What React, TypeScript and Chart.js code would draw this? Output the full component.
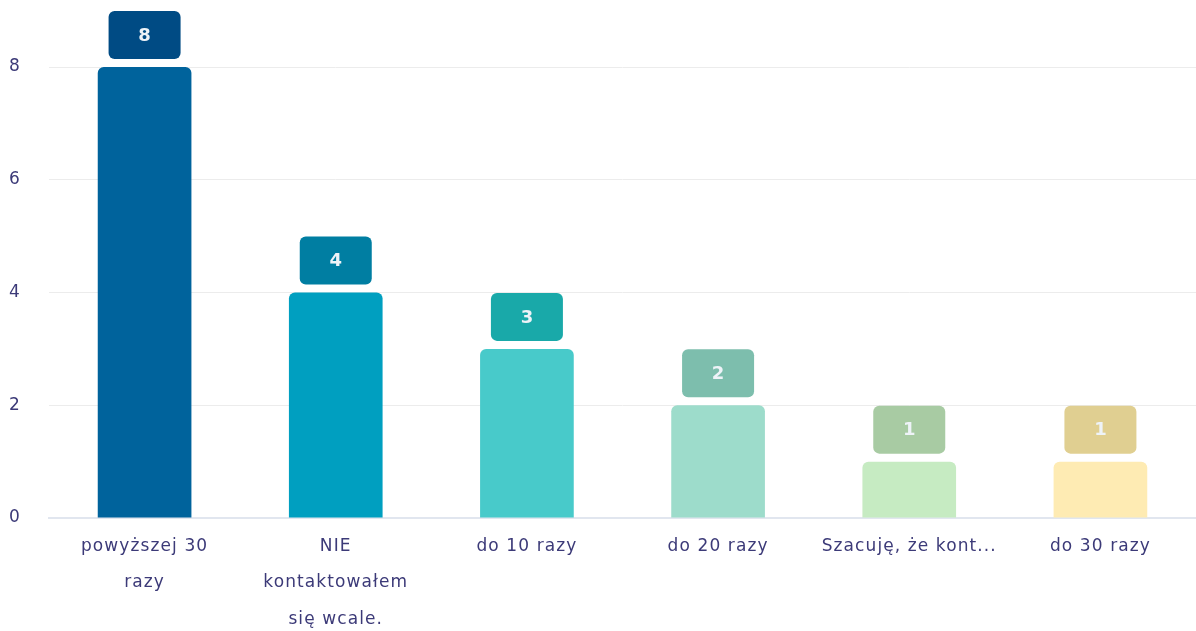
import React, { useEffect, useRef } from "react";
import { Chart, registerables } from "chart.js";

Chart.register(...registerables);

const categories: (string | string[])[] = [
  ["powyższej 30", "razy"],
  ["NIE", "kontaktowałem", "się wcale."],
  "do 10 razy",
  "do 20 razy",
  "Szacuję, że kont...",
  "do 30 razy",
];
const values = [8, 4, 3, 2, 1, 1];
const barColors = ["#00639c", "#009fc0", "#48caca", "#9ddccb", "#c6ebc2", "#feebb3"];
const boxColors = ["#004b84", "#007ea2", "#19a9a9", "#7dbead", "#a8cba3", "#e0cf91"];
const yTicks = [0, 2, 4, 6, 8];

const FONT = "'DejaVu Sans', sans-serif";
const LS = "1.1px";

const spacing = {
  id: "spacing",
  beforeLayout(chart: any) {
    chart.ctx.letterSpacing = LS;
  },
  beforeDraw(chart: any) {
    chart.ctx.letterSpacing = LS;
  },
};

const valueBoxes = {
  id: "valueBoxes",
  afterDatasetsDraw(chart: any) {
    const ctx = chart.ctx;
    const meta = chart.getDatasetMeta(0);
    meta.data.forEach((bar: any, i: number) => {
      const w = 72;
      const h = 48;
      const x = bar.x - w / 2;
      const y = bar.y - 8 - h;
      ctx.save();
      ctx.letterSpacing = "0px";
      ctx.fillStyle = boxColors[i];
      ctx.beginPath();
      (ctx as any).roundRect(x, y, w, h, 6);
      ctx.fill();
      ctx.fillStyle = "#eef3f8";
      ctx.font = `bold 18px ${FONT}`;
      ctx.textAlign = "center";
      ctx.textBaseline = "middle";
      ctx.fillText(String(values[i]), bar.x, y + h / 2 + 1);
      ctx.restore();
    });
  },
};

export default function App() {
  const ref = useRef<HTMLCanvasElement | null>(null);
  useEffect(() => {
    if (!ref.current) return;
    const chart = new Chart(ref.current, {
      type: "bar",
      data: {
        labels: categories,
        datasets: [
          {
            data: values,
            backgroundColor: barColors,
            borderRadius: 6,
            borderSkipped: "bottom",
            categoryPercentage: 1,
            barPercentage: 0.49,
          },
        ],
      },
      options: {
        animation: false,
        responsive: true,
        maintainAspectRatio: false,
        layout: { padding: { top: 67, left: 0, right: 0, bottom: 0 } },
        plugins: { legend: { display: false }, tooltip: { enabled: false } },
        scales: {
          x: {
            grid: { display: false },
            border: { display: true, color: "#e1e6ef", width: 2 },
            afterFit: (axis: any) => {
              axis.height = 113;
            },
            ticks: {
              color: "#3c3a78",
              font: { family: FONT, size: 17, lineHeight: 2.12 },
              padding: 3,
              maxRotation: 0,
              autoSkip: false,
            },
          },
          y: {
            min: 0,
            max: 8,
            afterBuildTicks: (axis: any) => {
              axis.ticks = yTicks.map((v) => ({ value: v }));
            },
            afterFit: (axis: any) => {
              axis.width = 49;
            },
            grid: { color: "#ececec", drawTicks: false },
            border: { display: false },
            ticks: {
              color: "#3c3a78",
              font: { family: FONT, size: 17 },
              padding: 28,
            },
          },
        },
      },
      plugins: [spacing, valueBoxes],
    });
    return () => chart.destroy();
  }, []);
  return (
    <div style={{ position: "fixed", left: 0, top: 0, width: 1196, height: 631, background: "#fff" }}>
      <canvas ref={ref} />
    </div>
  );
}
